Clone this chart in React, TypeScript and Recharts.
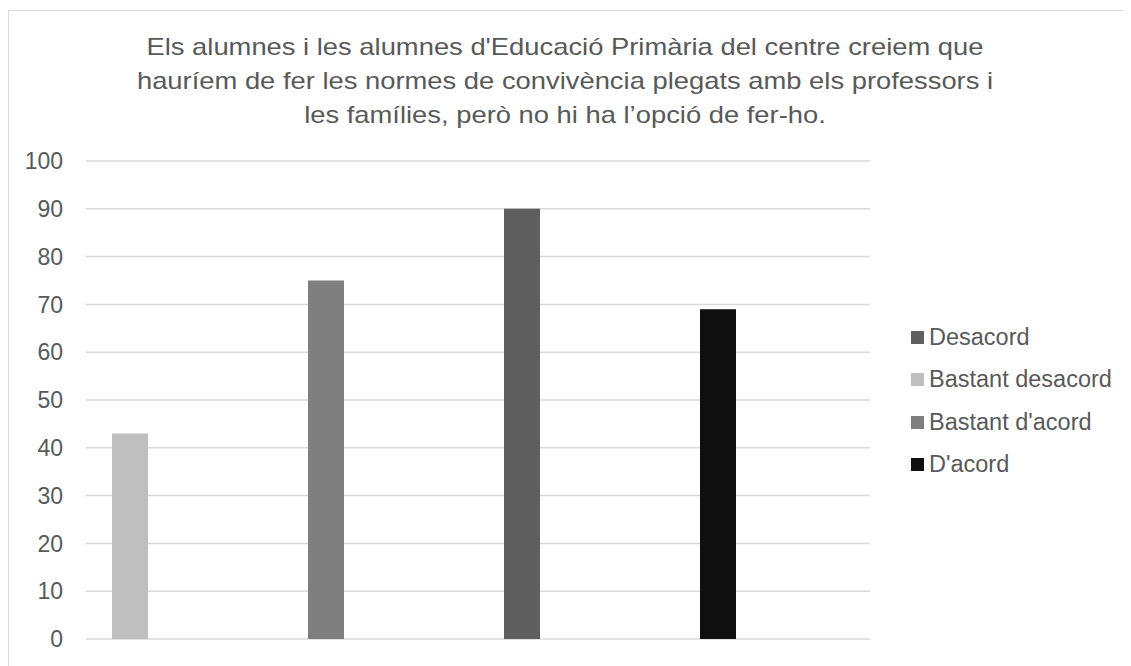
import * as React from "react"
import { Bar, BarChart, CartesianGrid, Cell, XAxis, YAxis } from "recharts"

const titleLines = [
  "Els alumnes i les alumnes d'Educació Primària del centre creiem que",
  "hauríem de fer les normes de convivència plegats amb els professors i",
  "les famílies, però no hi ha l’opció de fer-ho.",
]

const categories = ["1", "2", "3", "4"]
const values = [43, 75, 90, 69]
const barColors = ["#bfbfbf", "#7f7f7f", "#5f5f5f", "#0f0f0f"]

const legendNames = ["Desacord", "Bastant desacord", "Bastant d'acord", "D'acord"]
const legendColors = ["#5f5f5f", "#bfbfbf", "#7f7f7f", "#0f0f0f"]

const yTicks = [0, 10, 20, 30, 40, 50, 60, 70, 80, 90, 100]

const FONT = "'Liberation Sans', Arial, sans-serif"
const TEXT = "#595959"

const W = 1123
const H = 658

const data = categories.map((c, i) => ({ cat: c, value: values[i] }))

export default function App() {
  return (
    <div style={{ width: W, height: H, overflow: "hidden", position: "relative", background: "#fff" }}>
      <div
        style={{
          position: "absolute",
          left: 0,
          top: 2,
          width: W + 20,
          height: H + 20,
          border: "1.5px solid #d9d9d9",
          boxSizing: "border-box",
        }}
      />
      {/* title: the source font is a bit wider than Arial, so stretch it */}
      <div
        style={{
          position: "absolute",
          left: 0,
          width: 1114,
          top: 22,
          textAlign: "center",
          fontFamily: FONT,
          fontSize: 24,
          lineHeight: "34px",
          color: TEXT,
          transform: "scaleX(1.14)",
          transformOrigin: "557px 0",
        }}
      >
        {titleLines.map((l) => (
          <div key={l}>{l}</div>
        ))}
      </div>
      <div style={{ position: "absolute", left: 0, top: 0 }}>
        <BarChart
          width={W}
          height={H}
          data={data}
          margin={{ top: 153, right: 261, bottom: 27, left: 0 }}
          barSize={36}
          barGap={0}
        >
          <CartesianGrid vertical={false} stroke="#d9d9d9" strokeWidth={1.5} />
          <XAxis dataKey="cat" hide />
          <YAxis
            domain={[0, 100]}
            ticks={yTicks}
            width={78}
            tickSize={0}
            tickMargin={23}
            axisLine={false}
            tickLine={false}
            tick={{ fill: TEXT, fontSize: 23, fontFamily: FONT }}
          />
          <Bar dataKey="value" isAnimationActive={false}>
            {data.map((d, i) => (
              <Cell key={d.cat} fill={barColors[i]} />
            ))}
          </Bar>
          {/* empty series, only to keep the bar in the first slot of each category */}
          <Bar dataKey="s2" isAnimationActive={false} />
          <Bar dataKey="s3" isAnimationActive={false} />
          <Bar dataKey="s4" isAnimationActive={false} />
        </BarChart>
      </div>
      <div
        style={{
          position: "absolute",
          left: 903,
          top: 308,
          fontFamily: FONT,
          color: TEXT,
          fontSize: 23.5,
        }}
      >
        {legendNames.map((name, i) => (
          <div key={name} style={{ display: "flex", alignItems: "center", height: 42.5 }}>
            <span
              style={{
                display: "inline-block",
                width: 13,
                height: 13,
                background: legendColors[i],
                marginRight: 5,
              }}
            />
            <span>{name}</span>
          </div>
        ))}
      </div>
    </div>
  )
}
